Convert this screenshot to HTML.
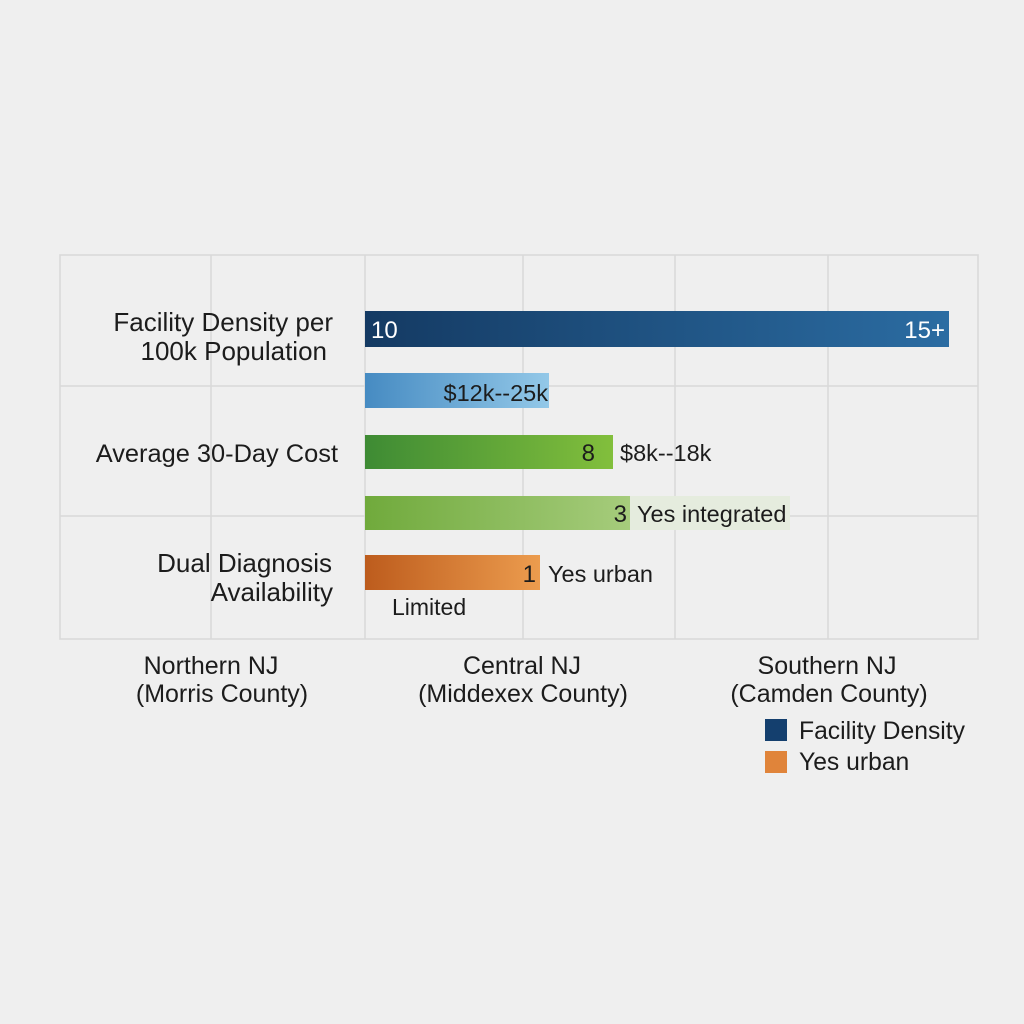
<!DOCTYPE html>
<html><head><meta charset="utf-8"><style>
html,body{margin:0;padding:0;background:#efefef;}
svg{display:block;}
text{font-family:"Liberation Sans",Arial,sans-serif;fill:#1c1c1c;}
</style></head><body>
<svg width="1024" height="1024" viewBox="0 0 1024 1024" xmlns="http://www.w3.org/2000/svg">
<defs>
<linearGradient id="gB" x1="0" x2="1" y1="0" y2="0"><stop offset="0" stop-color="#143a63"/><stop offset="1" stop-color="#2b6ca2"/></linearGradient>
<linearGradient id="gLB" x1="0" x2="1" y1="0" y2="0"><stop offset="0" stop-color="#468bc2"/><stop offset="1" stop-color="#93c8e8"/></linearGradient>
<linearGradient id="gG" x1="0" x2="1" y1="0" y2="0"><stop offset="0" stop-color="#3e8b34"/><stop offset="1" stop-color="#82bf3c"/></linearGradient>
<linearGradient id="gLG" x1="0" x2="1" y1="0" y2="0"><stop offset="0" stop-color="#70aa3c"/><stop offset="1" stop-color="#a6cc7c"/></linearGradient>
<linearGradient id="gO" x1="0" x2="1" y1="0" y2="0"><stop offset="0" stop-color="#bd5c1d"/><stop offset="1" stop-color="#ec9c4e"/></linearGradient>
</defs>
<rect width="1024" height="1024" fill="#efefef"/>
<!-- grid -->
<g stroke="#d9d9d9" stroke-width="1.6" fill="none">
<rect x="60" y="255" width="918" height="384"/>
<line x1="211" y1="255" x2="211" y2="639"/>
<line x1="365" y1="255" x2="365" y2="639"/>
<line x1="523" y1="255" x2="523" y2="639"/>
<line x1="675" y1="255" x2="675" y2="639"/>
<line x1="828" y1="255" x2="828" y2="639"/>
<line x1="60" y1="386" x2="978" y2="386"/>
<line x1="60" y1="516" x2="978" y2="516"/>
</g>
<!-- bars -->
<rect x="365" y="311" width="584" height="36" fill="url(#gB)"/>
<rect x="365" y="373" width="184" height="35" fill="url(#gLB)"/>
<rect x="365" y="435" width="248" height="34" fill="url(#gG)"/>
<rect x="630" y="496" width="160" height="34" fill="#e5ecde"/>
<rect x="365" y="496" width="265" height="34" fill="url(#gLG)"/>
<rect x="365" y="555" width="175" height="35" fill="url(#gO)"/>
<!-- bar texts -->
<text x="371" y="338" font-size="24" style="fill:#fff">10</text>
<text x="945" y="338" font-size="24" text-anchor="end" style="fill:#fff">15+</text>
<text x="548" y="401" font-size="23.5" text-anchor="end">$12k--25k</text>
<text x="595" y="461" font-size="24" text-anchor="end">8</text>
<text x="620" y="461" font-size="23.5">$8k--18k</text>
<text x="627" y="522" font-size="24" text-anchor="end">3</text>
<text x="637" y="522" font-size="23.5">Yes integrated</text>
<text x="536" y="582" font-size="24" text-anchor="end">1</text>
<text x="548" y="582" font-size="23.5">Yes urban</text>
<text x="392" y="615" font-size="23">Limited</text>
<!-- category labels -->
<g font-size="26" text-anchor="end">
<text x="333" y="331">Facility Density per</text>
<text x="327" y="360">100k Population</text>
<text x="338" y="462" font-size="25.4">Average 30-Day Cost</text>
<text x="332" y="572">Dual Diagnosis</text>
<text x="333" y="601">Availability</text>
</g>
<!-- x labels -->
<g font-size="25" text-anchor="middle">
<text x="211" y="674">Northern NJ</text>
<text x="222" y="702">(Morris County)</text>
<text x="522" y="674">Central NJ</text>
<text x="523" y="702">(Middexex County)</text>
<text x="827" y="674">Southern NJ</text>
<text x="829" y="702">(Camden County)</text>
</g>
<!-- legend -->
<rect x="765" y="719" width="22" height="22" fill="#143f6e"/>
<text x="799" y="739" font-size="24.7">Facility Density</text>
<rect x="765" y="751" width="22" height="22" fill="#e0843a"/>
<text x="799" y="770" font-size="24.7">Yes urban</text>
</svg>
</body></html>
